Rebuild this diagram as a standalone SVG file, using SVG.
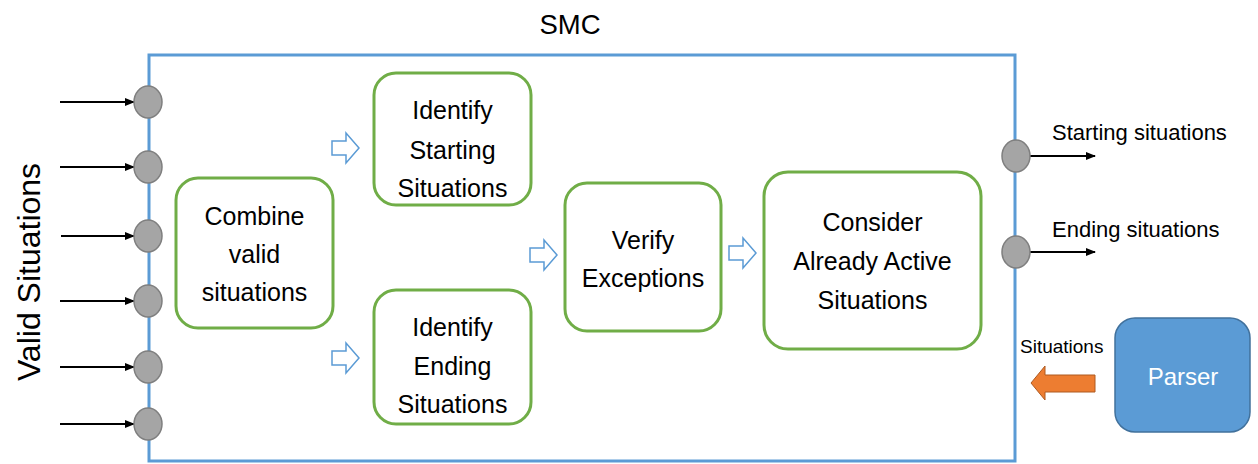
<svg xmlns="http://www.w3.org/2000/svg" width="1258" height="464" viewBox="0 0 1258 464">
<defs>
<marker id="ah" viewBox="0 0 10 10" refX="9" refY="5" markerWidth="5" markerHeight="5" orient="auto" markerUnits="strokeWidth">
<path d="M0,1 L10,5 L0,9 z" fill="#000"/>
</marker>
<style>
text{font-family:"Liberation Sans","Noto Sans",Arial,sans-serif;fill:#000}
.box{fill:#fff;stroke:#70ad47;stroke-width:3}
.t{font-size:25px;text-anchor:middle}
.port{fill:#a5a5a5;stroke:#7f7f7f;stroke-width:1.5}
.ln{stroke:#000;stroke-width:2;fill:none;marker-end:url(#ah)}
.barrow{fill:#fff;stroke:#5b9bd5;stroke-width:1.5}
.lbl{font-size:22px}
</style>
</defs>
<rect width="1258" height="464" fill="#fff"/>
<g id="smc">
<rect x="149" y="55" width="866" height="406" fill="none" stroke="#5b9bd5" stroke-width="3"/>
<text x="570" y="34" font-size="27.5" text-anchor="middle">SMC</text>
</g>
<text x="40" y="272" font-size="32" text-anchor="middle" transform="rotate(-90 40 272)">Valid Situations</text>
<g id="connectors">
<line class="ln" x1="60" y1="102" x2="134" y2="102"/>
<line class="ln" x1="60" y1="167" x2="134" y2="167"/>
<line class="ln" x1="61" y1="236" x2="134" y2="236"/>
<line class="ln" x1="60" y1="301" x2="134" y2="301"/>
<line class="ln" x1="60" y1="367" x2="134" y2="367"/>
<line class="ln" x1="60" y1="424" x2="134" y2="424"/>
<line class="ln" x1="1030" y1="156" x2="1095" y2="156"/>
<line class="ln" x1="1030" y1="252" x2="1095" y2="252"/>
<path class="barrow" d="M332,141 H346 V133 L359,148 L346,163 V155 H332 Z"/>
<path class="barrow" d="M332,351 H346 V343 L359,358 L346,373 V365 H332 Z"/>
<path class="barrow" d="M530,248 H544 V240 L557,255 L544,270 V262 H530 Z"/>
<path class="barrow" d="M729,246 H743 V238 L756,253 L743,268 V260 H729 Z"/>
<path d="M1095,375 H1045 V366 L1031,383 L1045,400 V392 H1095 Z" fill="#ed7d31" stroke="#ae5a21" stroke-width="1"/>
</g>
<g id="ports">
<ellipse class="port" cx="148" cy="102" rx="14" ry="16"/>
<ellipse class="port" cx="148" cy="167" rx="14" ry="16"/>
<ellipse class="port" cx="148" cy="236" rx="14" ry="16"/>
<ellipse class="port" cx="148" cy="301" rx="14" ry="16"/>
<ellipse class="port" cx="148" cy="367" rx="14" ry="16"/>
<ellipse class="port" cx="148" cy="424" rx="14" ry="16"/>
<ellipse class="port" cx="1016" cy="156" rx="14" ry="16"/>
<ellipse class="port" cx="1016" cy="252" rx="14" ry="16"/>
</g>
<g id="combine">
<rect class="box" x="176" y="178" width="157" height="150" rx="22"/>
<text class="t" x="254.5" y="225">Combine</text>
<text class="t" x="254.5" y="263">valid</text>
<text class="t" x="254.5" y="301">situations</text>
</g>
<g id="identify-starting">
<rect class="box" x="374" y="73" width="157" height="132" rx="22"/>
<text class="t" x="452.5" y="119">Identify</text>
<text class="t" x="452.5" y="159">Starting</text>
<text class="t" x="452.5" y="197">Situations</text>
</g>
<g id="identify-ending">
<rect class="box" x="374" y="290" width="157" height="134" rx="22"/>
<text class="t" x="452.5" y="336">Identify</text>
<text class="t" x="452.5" y="375">Ending</text>
<text class="t" x="452.5" y="413">Situations</text>
</g>
<g id="verify">
<rect class="box" x="565" y="183" width="156" height="148" rx="22"/>
<text class="t" x="643" y="249">Verify</text>
<text class="t" x="643" y="287">Exceptions</text>
</g>
<g id="consider">
<rect class="box" x="764" y="172" width="217" height="177" rx="24"/>
<text class="t" x="872.5" y="231">Consider</text>
<text class="t" x="872.5" y="270">Already Active</text>
<text class="t" x="872.5" y="309">Situations</text>
</g>
<g id="parser">
<rect x="1115" y="318" width="135" height="114" rx="20" fill="#5b9bd5" stroke="#41719c" stroke-width="1.5"/>
<text x="1183" y="385" font-size="24" text-anchor="middle" style="fill:#fff">Parser</text>
</g>
<g id="labels">
<text class="lbl" x="1052" y="140">Starting situations</text>
<text class="lbl" x="1052" y="237">Ending situations</text>
<text x="1020" y="353" font-size="19">Situations</text>
</g>
</svg>
